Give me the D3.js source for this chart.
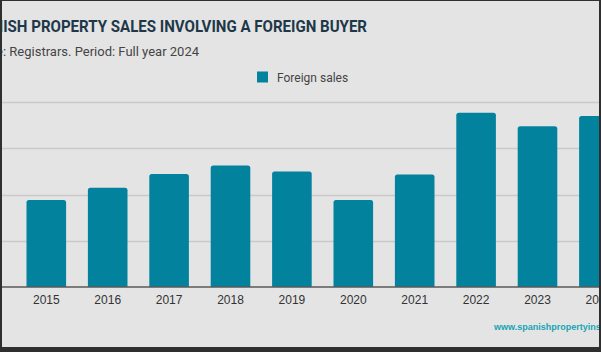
<!DOCTYPE html>
<html>
<head>
<meta charset="utf-8">
<script src="https://cdn.jsdelivr.net/npm/d3@7"></script>
<style>
  html, body { margin: 0; padding: 0; background: #2b2b2b; }
  svg { display: block; }
</style>
</head>
<body>
<div id="chart"></div>
<script>
var width = 601,
    height = 352;

var years = ["2015", "2016", "2017", "2018", "2019", "2020", "2021", "2022", "2023", "2024"];
var foreignSales = [37600, 42900, 48900, 52500, 49900, 37600, 48600, 75400, 69500, 73900];
var gridTicks = [20000, 40000, 60000, 80000];

var data = years.map(function(y, i) { return { year: y, value: foreignSales[i] }; });

var svg = d3.select("#chart").append("svg")
  .attr("width", width)
  .attr("height", height);

// page background with the dark frame of the screenshot
svg.append("rect").attr("width", width).attr("height", height).attr("fill", "#2f2f2f");
svg.append("rect")
  .attr("x", 2).attr("y", 1)
  .attr("width", width - 4).attr("height", 346)
  .attr("fill", "#e4e4e4");

var x = d3.scaleBand()
  .domain(years)
  .range([15.6, 15.6 + 61.4 * years.length])
  .paddingInner(0.355)
  .paddingOuter(0.1775);

var y = d3.scaleLinear()
  .domain([0, 80000])
  .range([287, 102]);

var plot = svg.append("g");

plot.append("defs").append("clipPath").attr("id", "clip")
  .append("rect").attr("x", 2).attr("y", 0).attr("width", width - 4).attr("height", height);

var inner = plot.append("g").attr("clip-path", "url(#clip)");

// gridlines
inner.selectAll(".grid")
  .data(gridTicks)
  .enter().append("line")
  .attr("x1", 2).attr("x2", width)
  .attr("y1", function(d) { return Math.round(y(d)) + 0.5; })
  .attr("y2", function(d) { return Math.round(y(d)) + 0.5; })
  .attr("stroke", "#c9c9c9")
  .attr("stroke-width", 1.3);

// bars, rounded on top
inner.selectAll(".bar")
  .data(data)
  .enter().append("path")
  .attr("fill", "#03829e")
  .attr("d", function(d) {
    var x0 = x(d.year), w = x.bandwidth(), y0 = y(d.value), y1 = y(0), r = 2.5;
    return "M" + x0 + "," + y1 +
      "V" + (y0 + r) +
      "Q" + x0 + "," + y0 + " " + (x0 + r) + "," + y0 +
      "H" + (x0 + w - r) +
      "Q" + (x0 + w) + "," + y0 + " " + (x0 + w) + "," + (y0 + r) +
      "V" + y1 + "Z";
  });

// baseline
inner.append("line")
  .attr("x1", 2).attr("x2", width)
  .attr("y1", y(0)).attr("y2", y(0))
  .attr("stroke", "#5a5a5a")
  .attr("stroke-width", 1.3);

// x axis labels
var xAxis = d3.axisBottom(x).tickSize(0).tickPadding(8);
var gx = inner.append("g")
  .attr("transform", "translate(0," + y(0) + ")")
  .call(xAxis);
gx.select(".domain").remove();
gx.selectAll("text")
  .attr("font-family", "Arial, 'Liberation Sans', sans-serif")
  .attr("font-size", 12)
  .attr("fill", "#333");

// title & subtitle (left part is cropped in the source picture)
inner.append("text")
  .attr("transform", "translate(367,32) scale(0.93,1)")
  .attr("text-anchor", "end")
  .attr("font-family", "Roboto, sans-serif")
  .attr("font-weight", "bold")
  .attr("font-size", 16.2)
  .attr("fill", "#1e3849")
  .text("SPANISH PROPERTY SALES INVOLVING A FOREIGN BUYER");

inner.append("text")
  .attr("x", 199).attr("y", 56)
  .attr("text-anchor", "end")
  .attr("font-family", "Roboto, sans-serif")
  .attr("font-size", 13)
  .attr("fill", "#444")
  .text("Source: Registrars. Period: Full year 2024");

// legend
var legend = inner.append("g");
legend.append("rect")
  .attr("x", 257).attr("y", 71.5)
  .attr("width", 11).attr("height", 11)
  .attr("fill", "#03829e");
legend.append("text")
  .attr("x", 277).attr("y", 81.5)
  .attr("font-family", "Roboto, sans-serif")
  .attr("font-size", 12)
  .attr("fill", "#444")
  .text("Foreign sales");

// watermark
inner.append("text")
  .attr("x", 494).attr("y", 330)
  .attr("font-family", "Arial, sans-serif")
  .attr("font-weight", "bold")
  .attr("font-size", 9)
  .attr("fill", "#16a4b4")
  .text("www.spanishpropertyinsight.com");
</script>
</body>
</html>
